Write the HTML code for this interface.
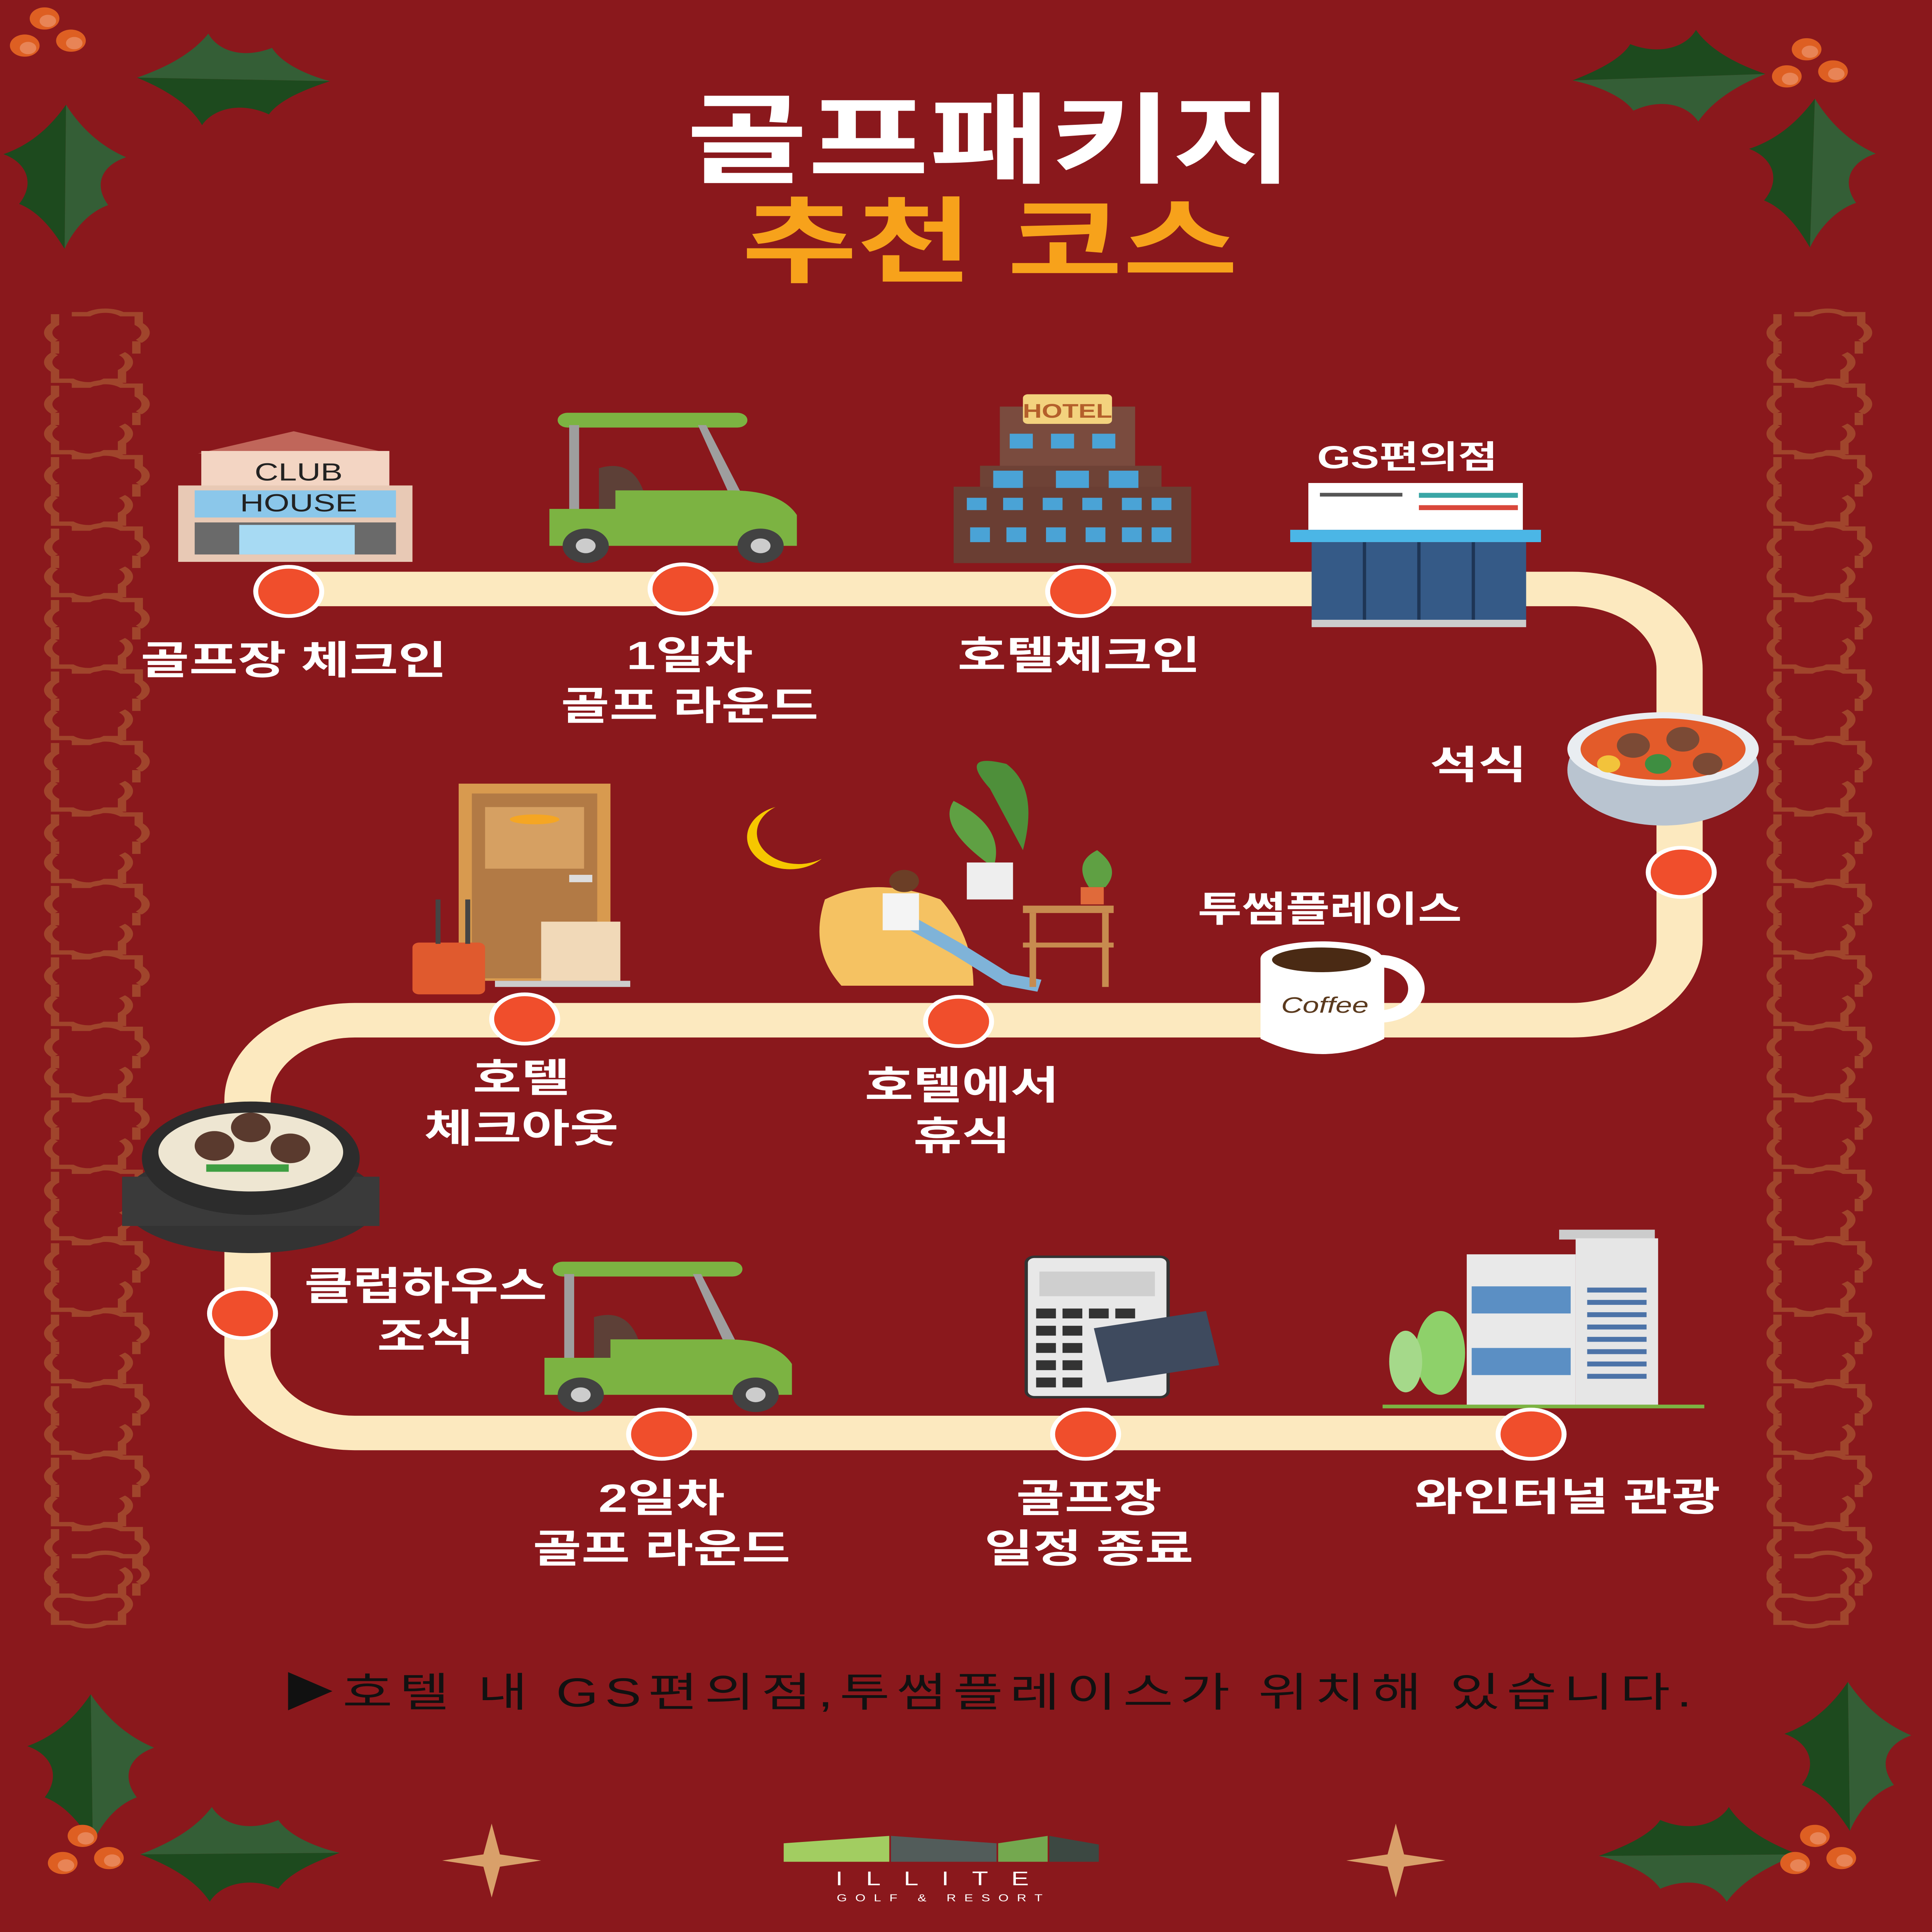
<!DOCTYPE html>
<html><head><meta charset="utf-8"><meta name="viewport" content="width=5558,initial-scale=1"><style>
html,body{margin:0;padding:0;background:#8A181C;width:100vw;height:100vh;overflow:hidden;}
#wrap{position:fixed;left:0;top:0;width:100vw;height:100vh;overflow:hidden;}
svg{display:block;position:absolute;left:0;top:0;width:100vw;height:100vh;}
text{font-family:"Liberation Sans","Noto Sans CJK KR",sans-serif;}
</style></head><body><div id="wrap">
<svg viewBox="0 0 1171 1568" preserveAspectRatio="none" xmlns="http://www.w3.org/2000/svg">
<defs>
<clipPath id="frame"><rect width="1171" height="1568"/></clipPath>
<g id="orn" fill="none" stroke="#A0452C" stroke-width="3.5">
<path d="M-10,-27 h7 a10,10 0 0 1 14,0 h7 v8 a10,10 0 0 1 0,14 M-17,-5 a10,10 0 0 1 0,-14 v-8 M-17,-5 v10 M17,-5 v10 M-17,5 a10,10 0 0 0 0,14 v8 h7 a10,10 0 0 0 14,0 h7 v-8 a10,10 0 0 0 0,-14"/>
</g>
<g id="col">
<use href="#orn" y="282"/><use href="#orn" y="340"/><use href="#orn" y="398"/><use href="#orn" y="456"/><use href="#orn" y="514"/><use href="#orn" y="572"/><use href="#orn" y="630"/><use href="#orn" y="688"/><use href="#orn" y="746"/><use href="#orn" y="804"/><use href="#orn" y="862"/><use href="#orn" y="920"/><use href="#orn" y="978"/><use href="#orn" y="1036"/><use href="#orn" y="1094"/><use href="#orn" y="1152"/><use href="#orn" y="1210"/><use href="#orn" y="1268"/><use href="#orn" y="1290"/>
</g>
<g id="holly">
<path d="M0,0 C30,-15 55,-35 70,-62 C80,-40 105,-28 135,-45 C145,-25 170,-10 195,-2 Z" fill="#345E36"/>
<path d="M0,0 C30,15 55,35 68,62 C78,40 105,28 135,45 C145,25 170,10 195,-2 Z" fill="#1D4A1E"/>
</g>
<g id="berries">
<circle cx="0" cy="0" r="9" fill="#DE5F22"/><circle cx="2" cy="2" r="5" fill="#E88456"/>
<circle cx="-12" cy="22" r="9" fill="#DE5F22"/><circle cx="-10" cy="24" r="5" fill="#E88456"/>
<circle cx="16" cy="18" r="9" fill="#DE5F22"/><circle cx="18" cy="20" r="5" fill="#E88456"/>
</g>
<g id="cart">
<rect x="5" y="0" width="115" height="12" rx="6" fill="#7CB342"/>
<rect x="12" y="10" width="6" height="70" fill="#9E9E9E"/>
<path d="M95,10 L120,75 L112,75 L90,10Z" fill="#9E9E9E"/>
<path d="M30,45 q25,-10 30,35 h-30z" fill="#5D4037"/>
<path d="M0,78 h40 v-15 h70 q30,0 40,20 v25 h-150z" fill="#7CB342"/>
<circle cx="22" cy="108" r="14" fill="#424242"/><circle cx="22" cy="108" r="6" fill="#ccc"/>
<circle cx="128" cy="108" r="14" fill="#424242"/><circle cx="128" cy="108" r="6" fill="#ccc"/>
</g>
</defs>
<g clip-path="url(#frame)">
<rect width="1171" height="1568" fill="#8A181C"/>

<use href="#col" transform="translate(58,0) scale(1.45,1)"/>
<use href="#col" transform="translate(1102,0) scale(1.45,1)"/>

<use href="#holly" transform="translate(83,63) rotate(2) scale(0.6)"/>
<use href="#holly" transform="translate(40,85) rotate(91) scale(0.6)"/>
<use href="#berries" transform="translate(27,15)"/>
<use href="#holly" transform="translate(1070,60) rotate(178) scale(0.6)"/>
<use href="#holly" transform="translate(1100,80) rotate(92) scale(0.62)"/>
<use href="#berries" transform="translate(1095,40)"/>
<use href="#holly" transform="translate(55,1375) rotate(90) scale(0.62)"/>
<use href="#holly" transform="translate(85,1505) rotate(0) scale(0.62)"/>
<use href="#berries" transform="translate(50,1490)"/>
<use href="#holly" transform="translate(1120,1365) rotate(90) scale(0.62)"/>
<use href="#holly" transform="translate(1090,1505) rotate(180) scale(0.62)"/>
<use href="#berries" transform="translate(1100,1490)"/>

<text x="600" y="142" text-anchor="middle" font-size="80" font-weight="bold" fill="#fff">골프패키지</text>
<text x="600" y="223" text-anchor="middle" font-size="76" font-weight="bold" fill="#F7A21B">추천 코스</text>

<path d="M175,478 H953 A65,65 0 0 1 1018,543 V763 A65,65 0 0 1 953,828 H215 A65,65 0 0 0 150,893 V1098 A65,65 0 0 0 215,1163 H930" fill="none" stroke="#FCE9BF" stroke-width="28"/>

<g>
<path d="M120,368 L178,350 L236,368 Z" fill="#C0665A"/>
<rect x="122" y="366" width="114" height="30" fill="#F3D5C3"/>
<rect x="108" y="394" width="142" height="62" fill="#E8C9B5"/>
<rect x="118" y="398" width="122" height="22" fill="#8BC7EA"/>
<rect x="118" y="424" width="122" height="26" fill="#6A6A6A"/>
<rect x="145" y="426" width="70" height="24" fill="#A7DAF3"/>
<text x="181" y="390" text-anchor="middle" font-size="20" fill="#222">CLUB</text>
<text x="181" y="415" text-anchor="middle" font-size="20" fill="#222">HOUSE</text>
</g>
<use href="#cart" transform="translate(333,335)"/>
<use href="#cart" transform="translate(330,1024)"/>
<g>
<rect x="606" y="330" width="82" height="50" fill="#7A4B3E"/>
<rect x="594" y="378" width="110" height="40" fill="#6E4236"/>
<rect x="578" y="395" width="144" height="62" fill="#6A3E33"/>
<rect x="620" y="320" width="54" height="24" rx="3" fill="#F3D27E"/>
<text x="647" y="339" text-anchor="middle" font-size="16" font-weight="bold" fill="#B45F2B">HOTEL</text>
<g fill="#4AA3D6">
<rect x="612" y="352" width="14" height="12"/><rect x="637" y="352" width="14" height="12"/><rect x="662" y="352" width="14" height="12"/>
<rect x="602" y="382" width="18" height="14"/><rect x="640" y="382" width="20" height="14"/><rect x="672" y="382" width="18" height="14"/>
<rect x="586" y="404" width="12" height="10"/><rect x="608" y="404" width="12" height="10"/><rect x="632" y="404" width="12" height="10"/><rect x="656" y="404" width="12" height="10"/><rect x="680" y="404" width="12" height="10"/><rect x="698" y="404" width="12" height="10"/>
<rect x="588" y="428" width="12" height="12"/><rect x="610" y="428" width="12" height="12"/><rect x="634" y="428" width="12" height="12"/><rect x="658" y="428" width="12" height="12"/><rect x="680" y="428" width="12" height="12"/><rect x="698" y="428" width="12" height="12"/>
</g>
</g>
<g>
<rect x="793" y="392" width="130" height="38" fill="#fff"/>
<rect x="860" y="400" width="60" height="4" fill="#3AA6A6"/><rect x="860" y="410" width="60" height="4" fill="#D9473B"/><rect x="800" y="400" width="50" height="3" fill="#555"/>
<path d="M782,430 h152 v10 h-152z" fill="#4BB6E6"/>
<rect x="795" y="440" width="130" height="68" fill="#355A87"/>
<g stroke="#1E3555" stroke-width="2"><line x1="827" y1="440" x2="827" y2="505"/><line x1="860" y1="440" x2="860" y2="505"/><line x1="893" y1="440" x2="893" y2="505"/></g>
<rect x="795" y="503" width="130" height="6" fill="#ccc"/>
</g>
<text x="853" y="380" text-anchor="middle" font-size="26" font-weight="bold" fill="#fff">GS편의점</text>
<g>
<ellipse cx="1008" cy="625" rx="58" ry="45" fill="#B9C4D0"/>
<ellipse cx="1008" cy="608" rx="58" ry="30" fill="#E9EDF1"/>
<ellipse cx="1008" cy="608" rx="50" ry="25" fill="#E35B2A"/>
<circle cx="990" cy="605" r="10" fill="#7B4A35"/><circle cx="1020" cy="600" r="10" fill="#7B4A35"/><circle cx="1035" cy="620" r="9" fill="#7B4A35"/><circle cx="1005" cy="620" r="8" fill="#3E8E41"/><circle cx="975" cy="620" r="7" fill="#F2C33B"/>
</g>
<g>
<rect x="278" y="636" width="92" height="160" fill="#D89A4F"/>
<rect x="286" y="644" width="76" height="150" fill="#B27A45"/>
<rect x="294" y="655" width="60" height="50" fill="#D6A062"/>
<ellipse cx="324" cy="665" rx="15" ry="4" fill="#F5A623"/>
<rect x="345" y="710" width="14" height="6" fill="#ddd"/>
<rect x="328" y="748" width="48" height="48" fill="#F1D9B8"/>
<rect x="300" y="796" width="82" height="5" fill="#ccc"/>
<rect x="250" y="765" width="44" height="42" rx="4" fill="#E05A2E"/>
<rect x="264" y="730" width="3" height="36" fill="#444"/><rect x="282" y="730" width="3" height="36" fill="#444"/>
</g>
<path d="M470,655 a26,26 0 1 0 28,42 a22,22 0 1 1 -28,-42z" fill="#F6C700"/>
<g>
<path d="M500,730 q30,-20 70,0 q20,30 20,70 h-80 q-20,-30 -10,-70z" fill="#F5C262"/>
<path d="M540,740 l40,30 l30,25 l20,5" stroke="#7FB3D8" stroke-width="10" fill="none"/>
<circle cx="548" cy="715" r="9" fill="#6B3E26"/>
<rect x="535" y="725" width="22" height="30" fill="#f4f4f4"/>
<path d="M600,640 q-20,-30 10,-20 q20,20 10,70 z" fill="#4E8F3A"/>
<path d="M598,700 q-30,-30 -20,-50 q30,20 25,50z" fill="#5FA043"/>
<rect x="586" y="700" width="28" height="30" fill="#eee"/>
<rect x="620" y="735" width="55" height="6" fill="#C78B4F"/>
<rect x="624" y="741" width="4" height="60" fill="#C78B4F"/><rect x="668" y="741" width="4" height="60" fill="#C78B4F"/>
<rect x="620" y="765" width="55" height="4" fill="#C78B4F"/>
<path d="M660,720 q-10,-20 5,-30 q15,15 5,30z" fill="#5FA043"/><rect x="655" y="720" width="14" height="14" fill="#E06A3A"/>
</g>
<g>
<path d="M836,780 a22,22 0 1 1 0,45" stroke="#fff" stroke-width="10" fill="none"/>
<path d="M764,778 h75 v65 q-37,25 -75,0z" fill="#fff"/>
<ellipse cx="801" cy="778" rx="37" ry="14" fill="#fff"/>
<ellipse cx="801" cy="779" rx="30" ry="10" fill="#4A2A14"/>
<text x="803" y="822" text-anchor="middle" font-size="18" font-style="italic" fill="#5B3A1E">Coffee</text>
</g>
<g>
<ellipse cx="152" cy="975" rx="78" ry="42" fill="#333"/>
<rect x="74" y="955" width="156" height="40" fill="#3a3a3a"/>
<ellipse cx="152" cy="940" rx="66" ry="46" fill="#2C2C2C"/>
<ellipse cx="152" cy="935" rx="56" ry="32" fill="#EEE6D2"/>
<circle cx="130" cy="930" r="12" fill="#5A3A2E"/><circle cx="152" cy="915" r="12" fill="#5A3A2E"/><circle cx="176" cy="932" r="12" fill="#5A3A2E"/><rect x="125" y="945" width="50" height="6" fill="#3E9E41"/>
</g>
<g>
<rect x="622" y="1020" width="86" height="114" rx="5" fill="#E8E8E8" stroke="#333" stroke-width="2"/>
<rect x="630" y="1032" width="70" height="20" fill="#cfcfcf"/>
<g fill="#333"><rect x="628" y="1062" width="12" height="8"/><rect x="644" y="1062" width="12" height="8"/><rect x="660" y="1062" width="12" height="8"/><rect x="676" y="1062" width="12" height="8"/><rect x="628" y="1076" width="12" height="8"/><rect x="644" y="1076" width="12" height="8"/><rect x="628" y="1090" width="12" height="8"/><rect x="644" y="1090" width="12" height="8"/><rect x="628" y="1104" width="12" height="8"/><rect x="644" y="1104" width="12" height="8"/><rect x="628" y="1118" width="12" height="8"/><rect x="644" y="1118" width="12" height="8"/></g>
<path d="M663,1078 l68,-14 l8,44 l-68,14z" fill="#3E4A5E"/>
</g>
<g>
<rect x="945" y="998" width="58" height="8" fill="#ccc"/>
<rect x="955" y="1005" width="50" height="136" fill="#E6E6E6"/>
<rect x="889" y="1018" width="66" height="123" fill="#E9E9E9"/>
<rect x="892" y="1044" width="60" height="22" fill="#5B8FC4"/>
<rect x="892" y="1094" width="60" height="22" fill="#5B8FC4"/>
<g fill="#4C73A8"><rect x="962" y="1045" width="36" height="4"/><rect x="962" y="1055" width="36" height="4"/><rect x="962" y="1065" width="36" height="4"/><rect x="962" y="1075" width="36" height="4"/><rect x="962" y="1085" width="36" height="4"/><rect x="962" y="1095" width="36" height="4"/><rect x="962" y="1105" width="36" height="4"/><rect x="962" y="1115" width="36" height="4"/></g>
<ellipse cx="873" cy="1098" rx="15" ry="34" fill="#8ED16A"/>
<ellipse cx="852" cy="1105" rx="10" ry="25" fill="#A5D98A"/>
<rect x="838" y="1140" width="195" height="3" fill="#7CB342"/>
</g>

<g fill="#F04E2C" stroke="#fff" stroke-width="3">
<circle cx="175" cy="480" r="20"/><circle cx="414" cy="478" r="20"/><circle cx="655" cy="480" r="20"/>
<circle cx="1019" cy="708" r="20"/>
<circle cx="581" cy="829" r="20"/><circle cx="318" cy="827" r="20"/>
<circle cx="147" cy="1066" r="20"/>
<circle cx="401" cy="1164" r="20"/><circle cx="658" cy="1164" r="20"/><circle cx="928" cy="1164" r="20"/>
</g>

<g font-size="32" font-weight="bold" fill="#fff" text-anchor="middle">
<text x="178" y="547">골프장 체크인</text>
<text x="418" y="543">1일차</text><text x="418" y="584">골프 라운드</text>
<text x="654" y="543">호텔체크인</text>
<text x="896" y="632">석식</text>
<text x="806" y="748" font-size="29">투썸플레이스</text>
<text x="316" y="886">호텔</text><text x="316" y="927">체크아웃</text>
<text x="583" y="892">호텔에서</text><text x="583" y="933">휴식</text>
<text x="258" y="1055">클럽하우스</text><text x="258" y="1096">조식</text>
<text x="401" y="1227">2일차</text><text x="401" y="1268">골프 라운드</text>
<text x="660" y="1227">골프장</text><text x="660" y="1268">일정 종료</text>
<text x="950" y="1226">와인터널 관광</text>
</g>

<text x="600" y="1385" text-anchor="middle" font-size="33" fill="#111" letter-spacing="4">▶호텔 내 GS편의점,투썸플레이스가 위치해 있습니다.</text>

<path d="M298,1480 L303,1505 L328,1510 L303,1515 L298,1540 L293,1515 L268,1510 L293,1505Z" fill="#D9A06A"/>
<path d="M846,1480 L851,1505 L876,1510 L851,1515 L846,1540 L841,1515 L816,1510 L841,1505Z" fill="#D9A06A"/>

<path d="M475,1496 L539,1490 L539,1511 L475,1511Z" fill="#A2CD61"/>
<path d="M540,1490 L604,1496 L604,1511 L540,1511Z" fill="#525C5A"/>
<path d="M605,1496 L635,1490 L635,1511 L605,1511Z" fill="#74A84F"/>
<path d="M636,1490 L666,1497 L666,1511 L636,1511Z" fill="#3C4842"/>
<text x="572" y="1530" text-anchor="middle" font-size="16" fill="#fff" font-family="Liberation Serif" letter-spacing="14">ILLITE</text>
<text x="572" y="1543" text-anchor="middle" font-size="8" fill="#fff" font-family="Liberation Serif" letter-spacing="5">GOLF &amp; RESORT</text>
</g>
</svg>
</div></body></html>
